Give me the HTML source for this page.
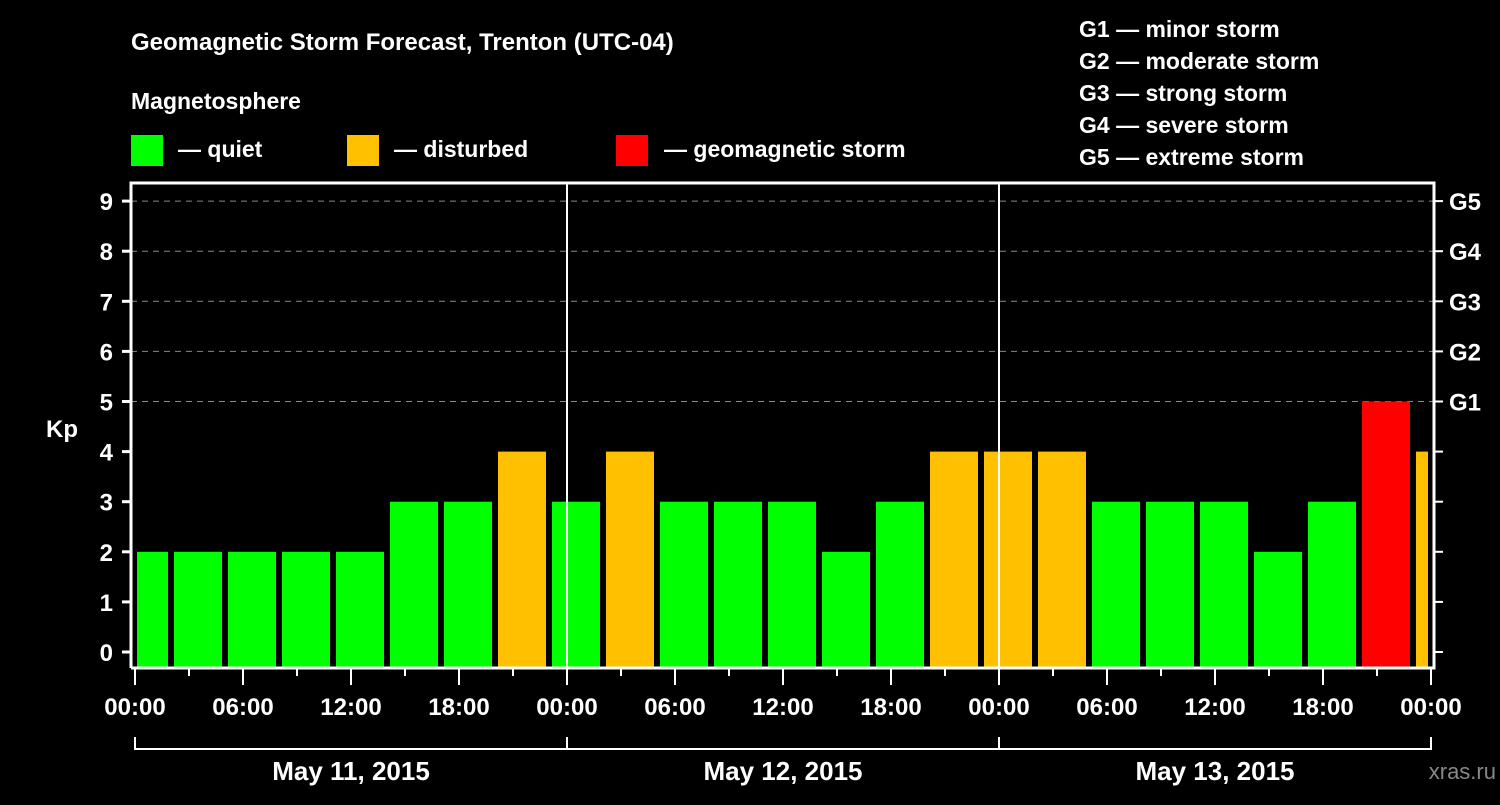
<!DOCTYPE html>
<html><head><meta charset="utf-8"><style>
body{margin:0;background:#000;width:1500px;height:800px;overflow:hidden}
svg{font-family:"Liberation Sans",sans-serif;font-weight:bold;fill:#fff}
</style></head><body>
<svg id="c" width="1500" height="800">
<text x="131" y="50" font-size="24">Geomagnetic Storm Forecast, Trenton (UTC-04)</text>
<text x="131" y="109" font-size="23">Magnetosphere</text>
<rect x="131" y="135" width="32" height="31" fill="#00ff00"/>
<text x="178" y="157" font-size="23">— quiet</text>
<rect x="347" y="135" width="32" height="31" fill="#ffc000"/>
<text x="394" y="157" font-size="23">— disturbed</text>
<rect x="616" y="135" width="32" height="31" fill="#ff0000"/>
<text x="664" y="157" font-size="23">— geomagnetic storm</text>
<g font-size="23">
<text x="1079" y="37">G1 — minor storm</text>
<text x="1079" y="69">G2 — moderate storm</text>
<text x="1079" y="101">G3 — strong storm</text>
<text x="1079" y="133">G4 — severe storm</text>
<text x="1079" y="165">G5 — extreme storm</text>
</g>
<text x="1445" y="779" font-size="22" fill="#888" style="font-weight:normal" text-anchor="end" transform="translate(51,0)">xras.ru</text>
<text x="62" y="437" font-size="24" text-anchor="middle">Kp</text>
<g id="plot"></g>
</svg>
<script>
const values=[2,2,2,2,2,3,3,4,3,4,3,3,3,2,3,4,4,4,3,3,3,2,3,5,4];
const yTicks=[0,1,2,3,4,5,6,7,8,9];
const gLabels=["G1","G2","G3","G4","G5"];
const xLabels=["00:00","06:00","12:00","18:00","00:00","06:00","12:00","18:00","00:00","06:00","12:00","18:00","00:00"];
const dayLabels=["May 11, 2015","May 12, 2015","May 13, 2015"];
const NS="http://www.w3.org/2000/svg";
const g=document.getElementById('plot');
const L=131,R=1434,T=183,B=668,X0=135,DAY=432;
const y=v=>652-v*50.1;
const x=h=>X0+h*DAY/24;
function el(t,a){const e=document.createElementNS(NS,t);for(const k in a)e.setAttribute(k,a[k]);g.appendChild(e);return e;}
// grid
for(let v=5;v<=9;v++){const e=el('line',{x1:L,x2:R,y1:y(v),y2:y(v),stroke:'#888','stroke-dasharray':'6,5','stroke-width':1});

}
// bars
values.forEach((v,i)=>{let x1=x(i*3)-15,x2=x1+48;x1=Math.max(x1,L+6);x2=Math.min(x2,R-6);
const c=v>=5?'#ff0000':v>=4?'#ffc000':'#00ff00';
const r=el('rect',{x:x1,y:y(v),width:x2-x1,height:B-y(v),fill:c});

});
// frame
const f=el('path',{d:`M${L} ${B}V${T}H${R}V${B}H${L}`,fill:'none',stroke:'#fff','stroke-width':3});


[1,2].forEach(d=>{const l=el('line',{x1:x(d*24),x2:x(d*24),y1:T,y2:B,stroke:'#fff','stroke-width':2});

});
// y ticks
yTicks.forEach(v=>{el('line',{x1:122,x2:L,y1:y(v),y2:y(v),stroke:'#fff','stroke-width':3});
el('line',{x1:R,x2:1443,y1:y(v),y2:y(v),stroke:'#fff','stroke-width':2});
const t=el('text',{x:113,y:y(v)+9,'font-size':24,'text-anchor':'end'});t.textContent=v;

});
gLabels.forEach((s,i)=>{const t=el('text',{x:1449,y:y(5+i)+9,'font-size':24});t.textContent=s;

});
// x ticks
for(let h=0;h<=72;h+=3){const big=h%6==0;el('line',{x1:x(h),x2:x(h),y1:B,y2:B+(big?17:8),stroke:'#fff','stroke-width':2});}
xLabels.forEach((s,i)=>{const t=el('text',{x:x(i*6),y:715,'font-size':24,'text-anchor':'middle'});t.textContent=s;

});
// day bracket
el('path',{d:`M${x(0)} 737V749H${x(72)}V737`,fill:'none',stroke:'#fff','stroke-width':2});
[1,2].forEach(d=>el('line',{x1:x(d*24),x2:x(d*24),y1:737,y2:749,stroke:'#fff','stroke-width':2}));
dayLabels.forEach((s,i)=>{const t=el('text',{x:x(i*24+12),y:780,'font-size':26,'text-anchor':'middle'});t.textContent=s;

});
</script>
</body></html>
